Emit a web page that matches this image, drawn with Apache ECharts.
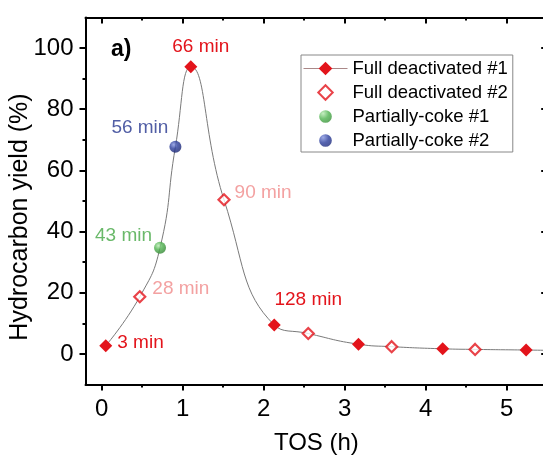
<!DOCTYPE html>
<html lang="en">
<head>
  <meta charset="UTF-8">
  <title>TOS yield</title>
  <script src="https://cdn.jsdelivr.net/npm/echarts@6/dist/echarts.min.js"></script>
  <style>
    html, body { margin: 0; padding: 0; background: #fff; }
    #main { width: 543px; height: 455px; }
  </style>
</head>
<body>
<div id="main"></div>
<script>
  // values (TOS in h, yield in %)
  const fullTOS1 = [0.05, 1.1, 2.13, 3.17, 4.21, 5.24];
  const fullYield1 = [2.7, 93.9, 9.5, 3.2, 1.7, 1.3];
  const full1Labels = ['3 min', '66 min', '128 min', '', '', ''];

  const fullTOS2 = [0.47, 1.51, 2.55, 3.58, 4.61];
  const fullYield2 = [18.7, 50.4, 6.7, 2.4, 1.5];
  const full2Labels = ['28 min', '90 min', '', '', ''];

  const partTOS1 = [0.72];
  const partYield1 = [34.7];
  const part1Labels = ['43 min'];

  const partTOS2 = [0.91];
  const partYield2 = [67.7];
  const part2Labels = ['56 min'];

  // where the fitted curve leaves the frame on the right
  const curveEndTOS = [5.5];
  const curveEndYield = [1.2];

  const xMajor = [0, 1, 2, 3, 4, 5];
  const xMinor = [0.5, 1.5, 2.5, 3.5, 4.5];
  const yMajor = [0, 20, 40, 60, 80, 100];
  const yMinor = [10, 30, 50, 70, 90];

  const FONT = '"Liberation Sans", Arial, sans-serif';
  const RED = '#e3141b';
  const PINK = '#f08a8a';
  const GREEN = '#45a845';
  const BLUE = '#25368f';

  const labelLook = {
    '3 min':   { position: 'right', distance: 5, offset: [0, -3], color: RED },
    '66 min':  { position: 'top', distance: 6, offset: [10, 2], color: RED },
    '128 min': { position: 'top', distance: 5, offset: [34, -4], color: RED },
    '28 min':  { position: 'right', distance: 6, offset: [0, -8], color: PINK },
    '90 min':  { position: 'right', distance: 4, offset: [0, -7], color: PINK },
    '43 min':  { position: 'left', distance: 2, offset: [0, -12], color: GREEN },
    '56 min':  { position: 'left', distance: 1, offset: [0, -19], color: BLUE }
  };

  // legend icons (padded boxes so the marks come out at their drawn size)
  const ICON_DIAMOND = 'path://M0,0 M20,20 M10,1.5 L18.5,10 L10,18.5 L1.5,10 Z';
  const ICON_BALL = 'path://M0,0 M22,22 M11,2.8 A8.2,8.2 0 0 1 11,19.2 A8.2,8.2 0 0 1 11,2.8 Z';

  function points(xs, ys, labels) {
    return xs.map((x, i) => {
      const item = { value: [x, ys[i]] };
      const txt = labels[i];
      if (txt) {
        item.label = Object.assign({
          show: true,
          formatter: txt,
          fontSize: 19,
          fontFamily: FONT
        }, labelLook[txt]);
      }
      return item;
    });
  }

  // smooth curve through every measured point
  const curve = []
    .concat(fullTOS1.map((x, i) => [x, fullYield1[i]]))
    .concat(fullTOS2.map((x, i) => [x, fullYield2[i]]))
    .concat(partTOS1.map((x, i) => [x, partYield1[i]]))
    .concat(partTOS2.map((x, i) => [x, partYield2[i]]))
    .concat(curveEndTOS.map((x, i) => [x, curveEndYield[i]]))
    .sort((a, b) => a[0] - b[0]);

  function ball(light, mid, dark) {
    return {
      type: 'radial', x: 0.36, y: 0.32, r: 0.8,
      colorStops: [
        { offset: 0, color: light },
        { offset: 0.4, color: mid },
        { offset: 1, color: dark }
      ]
    };
  }

  const axisLine = { show: true, onZero: false, lineStyle: { color: '#000', width: 2 } };
  const noLine = { show: false, onZero: false };

  function xAx(pos, ticks, len, inside, withLabels, line) {
    return {
      type: 'value', position: pos, min: -0.2, max: 5.5,
      axisLine: line ? axisLine : noLine,
      splitLine: { show: false },
      axisTick: { show: true, inside: inside, length: len, customValues: ticks,
        lineStyle: { color: '#000', width: 2 } },
      axisLabel: withLabels
        ? { show: true, customValues: ticks, fontSize: 24, fontFamily: FONT, color: '#000', margin: 13 }
        : { show: false }
    };
  }
  function yAx(pos, ticks, len, inside, withLabels, line) {
    return {
      type: 'value', position: pos, min: -10, max: 110,
      axisLine: line ? axisLine : noLine,
      splitLine: { show: false },
      axisTick: { show: true, inside: inside, length: len, customValues: ticks,
        lineStyle: { color: '#000', width: 2 } },
      axisLabel: withLabels
        ? { show: true, customValues: ticks, fontSize: 24, fontFamily: FONT, color: '#000', margin: 12 }
        : { show: false }
    };
  }

  const xMain = xAx('bottom', xMajor, 6, false, true, true);
  xMain.name = 'TOS (h)';
  xMain.nameLocation = 'middle';
  xMain.nameGap = 47;
  xMain.nameTextStyle = { fontSize: 24, fontFamily: FONT, color: '#000' };

  const chart = echarts.init(document.getElementById('main'));
  chart.setOption({
    backgroundColor: '#fff',
    animation: false,
    grid: { left: 85.5, top: 17.4, width: 461.7, height: 367.2, outerBoundsMode: 'none' },
    title: {
      text: 'a)', left: 106, top: 33,
      textStyle: { fontSize: 23, fontWeight: 'bold', fontFamily: FONT, color: '#000' }
    },
    graphic: [{
      type: 'text', x: 20, y: 217, rotation: Math.PI / 2,
      style: {
        text: 'Hydrocarbon yield (%)', font: '25px "Liberation Sans", Arial, sans-serif',
        fill: '#000', textAlign: 'center', textVerticalAlign: 'middle'
      }
    }],
    legend: {
      orient: 'vertical', left: 301, top: 55,
      padding: [4, 5, 2, 2],
      itemWidth: 44, itemHeight: 17, itemGap: 5,
      symbolKeepAspect: true,
      borderColor: '#888', borderWidth: 1, borderRadius: 0,
      textStyle: { fontSize: 18.5, fontFamily: FONT, color: '#000' },
      data: [
        { name: 'Full deactivated #1', lineStyle: { width: 1, color: '#a88', opacity: 1 } },
        { name: 'Full deactivated #2', icon: ICON_DIAMOND },
        { name: 'Partially-coke #1', icon: ICON_BALL },
        { name: 'Partially-coke #2', icon: ICON_BALL }
      ]
    },
    xAxis: [
      xMain,
      xAx('bottom', xMinor, 3, false, false, false),
      xAx('top', xMajor, 6, true, false, true),
      xAx('top', xMinor, 3, true, false, false)
    ],
    yAxis: [
      yAx('left', yMajor, 6, false, true, true),
      yAx('left', yMinor, 3, false, false, false),
      yAx('right', yMajor, 6, true, false, true),
      yAx('right', yMinor, 3, true, false, false)
    ],
    series: [
      {
        name: 'curve', type: 'line', data: curve, smooth: 0.5,
        showSymbol: false, symbol: 'none', silent: true,
        lineStyle: { color: '#7a7a7a', width: 1 }, z: 1
      },
      {
        name: 'Full deactivated #1', type: 'line',
        data: points(fullTOS1, fullYield1, full1Labels),
        symbol: 'diamond', symbolSize: 13, showAllSymbol: true,
        lineStyle: { width: 0, opacity: 0 },
        itemStyle: { color: RED }, z: 3
      },
      {
        name: 'Full deactivated #2', type: 'scatter',
        data: points(fullTOS2, fullYield2, full2Labels),
        symbol: 'diamond', symbolSize: 11,
        itemStyle: { color: '#fff', borderColor: RED, borderWidth: 2.2 }, z: 3
      },
      {
        name: 'Partially-coke #1', type: 'scatter',
        data: points(partTOS1, partYield1, part1Labels),
        symbol: 'circle', symbolSize: 12,
        itemStyle: { color: ball('#b8eab2', '#4fb34f', '#2a7a2a') }, z: 3
      },
      {
        name: 'Partially-coke #2', type: 'scatter',
        data: points(partTOS2, partYield2, part2Labels),
        symbol: 'circle', symbolSize: 12,
        itemStyle: { color: ball('#8595e0', '#2b3d9c', '#141e66') }, z: 3
      }
    ]
  });
</script>
</body>
</html>
